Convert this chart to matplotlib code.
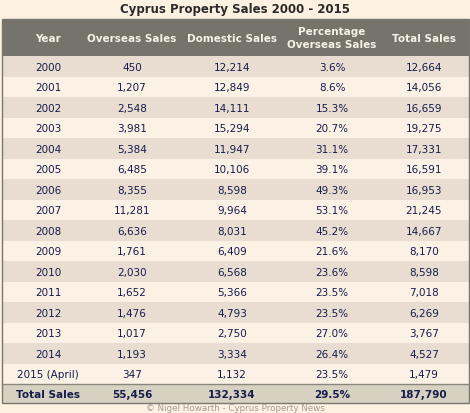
import matplotlib
matplotlib.use("Agg")
import matplotlib.pyplot as plt
from matplotlib.patches import Rectangle

columns = ["Year", "Overseas Sales", "Domestic Sales", "Percentage\nOverseas Sales", "Total Sales"]
years = ["2000","2001","2002","2003","2004","2005","2006","2007","2008","2009","2010","2011","2012","2013","2014","2015 (April)"]
overseas = ["450","1,207","2,548","3,981","5,384","6,485","8,355","11,281","6,636","1,761","2,030","1,652","1,476","1,017","1,193","347"]
domestic = ["12,214","12,849","14,111","15,294","11,947","10,106","8,598","9,964","8,031","6,409","6,568","5,366","4,793","2,750","3,334","1,132"]
percent = ["3.6%","8.6%","15.3%","20.7%","31.1%","39.1%","49.3%","53.1%","45.2%","21.6%","23.6%","23.5%","23.5%","27.0%","26.4%","23.5%"]
total = ["12,664","14,056","16,659","19,275","17,331","16,591","16,953","21,245","14,667","8,170","8,598","7,018","6,269","3,767","4,527","1,479"]
totals_row = ["Total Sales","55,456","132,334","29.5%","187,790"]

W, H = 470, 414
fig = plt.figure(figsize=(W/100, H/100), dpi=100)
fig.patch.set_facecolor("#FDF1E2")
ax = fig.add_axes([0, 0, 1, 1])
ax.set_xlim(0, W); ax.set_ylim(H, 0); ax.axis("off")

navy = "#161C4C"
xs = [48, 132, 232, 332, 424]
left, right = 2, 469
top, head_b = 20, 57
total_t, bot = 385, 404
rh = (total_t - head_b) / len(years)

ax.text(W/2, 10, "Cyprus Property Sales 2000 - 2015", ha="center", va="center",
        fontsize=8.5, fontweight="bold", color="#2A2A2A")
ax.add_patch(Rectangle((left, top), right-left, head_b-top, color="#76736B", lw=0))
for x, c in zip(xs, columns):
    ax.text(x, (top+head_b)/2, c, ha="center", va="center", fontsize=7.5,
            fontweight="semibold", color="#F7F1E8", linespacing=1.3)
rows = list(zip(years, overseas, domestic, percent, total))
for i, r in enumerate(rows):
    y0 = head_b + i*rh
    ax.add_patch(Rectangle((left, y0), right-left, rh,
                           color="#E8DDD0" if i % 2 == 0 else "#FCF1E5", lw=0))
    for x, v in zip(xs, r):
        ax.text(x, y0 + rh/2 + 0.5, v, ha="center", va="center", fontsize=7.5, color=navy)
ax.add_patch(Rectangle((left, total_t), right-left, bot-total_t, color="#D7D1C1", lw=0))
ax.plot([left, right], [total_t, total_t], color="#8A867C", lw=1)
for x, v in zip(xs, totals_row):
    ax.text(x, (total_t+bot)/2 + 0.5, v, ha="center", va="center", fontsize=7.5,
            fontweight="bold", color=navy)
ax.add_patch(Rectangle((left, top), right-left, bot-top, fill=False, ec="#7A776F", lw=1))
ax.text(W/2, 409, "© Nigel Howarth - Cyprus Property News", ha="center", va="center",
        fontsize=6.3, color="#A09C95")
fig.savefig("out.png", dpi=100, facecolor=fig.get_facecolor())
